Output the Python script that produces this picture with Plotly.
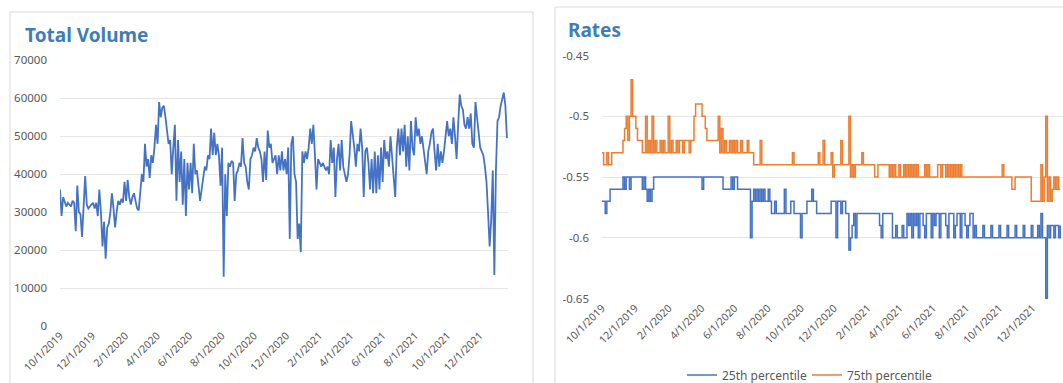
import pandas as pd
import plotly.graph_objects as go

# ---------------- data ----------------
start_date = "2019-10-01"
end_date = "2022-01-21"

tick_labels = ["10/1/2019", "12/1/2019", "2/1/2020", "4/1/2020", "6/1/2020", "8/1/2020",
               "10/1/2020", "12/1/2020", "2/1/2021", "4/1/2021", "6/1/2021", "8/1/2021",
               "10/1/2021", "12/1/2021"]

total_volume = [
    36000, 29000, 34000, 33000, 31500, 32500, 32000, 31500, 33000, 32500, 25000, 37000, 30000, 29500, 23500, 33000, 39500,
    32000, 31000, 31500, 32000, 32500, 31000, 32500, 29000, 36000, 30000, 21000, 27500, 17800, 26000, 27000,
    30000, 35000, 31000, 26000, 30000, 33000, 32000, 33500, 32500, 38000, 33000, 38500, 34000, 32000, 34000, 35000, 33000, 31000, 30500,
    36000, 40000, 38000, 48000, 42000, 44000, 39000, 45000, 43000, 47000, 53000, 48000, 59000, 55000, 57500,
    58000, 55000, 51000, 48000, 49000, 40000, 47000, 53000, 33000, 49000, 38000, 46000, 32000, 44000, 29000,
    43000, 36000, 43000, 35000, 48000, 40000, 41000, 37000, 33000, 36000, 39000, 42000, 41000, 45000, 44000, 52000, 45000,
    51000, 45000, 48000, 45000, 37000, 47000, 13000, 40000, 29000, 43000, 42000, 43500, 43000,
    33000, 40000, 41000, 43000, 42000, 49500, 43000, 42000, 38000, 36000, 44000, 45000, 47000,
    46000, 49500, 47000, 46000, 44000, 38000, 46000, 38500, 51500, 47000, 48000, 43000, 44000, 45000, 40000, 45000, 41000, 46000, 41000, 44000, 40000,
    47000, 23000, 48000, 50000, 40000, 38000, 23000, 27000, 19500, 46000, 43000, 46000, 44000,
    47000, 52000, 48000, 53000, 45000, 36000, 44000, 43000, 42000, 43000, 42000, 41000, 42000, 40000, 49000, 43000, 47000, 34000,
    44000, 48000, 41000, 49000, 42000, 40000, 38000, 40000, 45000, 54000, 51000, 47000, 42000, 48000, 46000, 52000, 47000, 34000, 46000, 47000, 43000, 36000,
    44000, 35000, 46000, 35000, 45000, 36000, 47000, 38000, 49000, 44000, 46000, 42000, 50000, 45000, 41000, 34000, 47000, 52000, 45000,
    52000, 46000, 53000, 42000, 50000, 41000, 54000, 47000, 45000, 55000, 50000, 52000, 48000, 50000, 47000, 43000, 40000, 46000, 48000, 51000, 52000,
    46000, 41000, 48000, 42000, 46000, 43000, 46000, 50000, 54000, 50000, 52000, 48000, 55000, 50000, 44000, 53000, 61000,
    58000, 57000, 53000, 52000, 55000, 52000, 56000, 48000, 47000, 59000, 55000, 50000, 47000, 46000, 45000,
    42000, 38000, 30000, 21000, 28000, 41000, 13500, 41000, 54000, 55000, 58000, 60000, 61500, 58000, 49500,
]

pct75 = [
    -0.53, -0.54, -0.54, -0.53, -0.54, -0.54, -0.53,
    -0.53, -0.53, -0.53, -0.53, -0.53, -0.53,
    -0.52, -0.51, -0.50, -0.52, -0.50, -0.47,
    -0.50, -0.50, -0.51, -0.52, -0.52,
    -0.52, -0.53, -0.53, -0.50, -0.53, -0.52, -0.53, -0.50, -0.53, -0.52,
    -0.53, -0.53, -0.52, -0.53, -0.52, -0.53, -0.53, -0.50, -0.53, -0.52,
    -0.53, -0.53, -0.52, -0.53, -0.52, -0.52, -0.53, -0.52, -0.52,
    -0.52, -0.53, -0.52, -0.52,
    -0.50, -0.49, -0.49, -0.49, -0.49, -0.50, -0.50,
    -0.51, -0.52, -0.52, -0.52, -0.52, -0.52, -0.52, -0.52, -0.50,
    -0.53, -0.51, -0.53, -0.52, -0.53, -0.53, -0.52, -0.53, -0.52, -0.53,
    -0.52, -0.53, -0.53, -0.52, -0.53, -0.53, -0.53, -0.52, -0.53, -0.53, -0.53,
    -0.54, -0.54, -0.54, -0.54, -0.52, -0.54, -0.54, -0.54, -0.54, -0.54,
    -0.54, -0.54, -0.54, -0.54, -0.54, -0.54, -0.54, -0.54, -0.54, -0.54,
    -0.54, -0.54, -0.54, -0.54, -0.53, -0.54, -0.54, -0.54, -0.54, -0.54,
    -0.54, -0.54, -0.54, -0.54, -0.54, -0.54, -0.54, -0.54, -0.54, -0.54,
    -0.53, -0.54, -0.54, -0.52, -0.54, -0.54, -0.54, -0.54, -0.53, -0.55,
    -0.54, -0.54, -0.54, -0.54, -0.52, -0.54, -0.54, -0.54, -0.54,
    -0.50,
    -0.55, -0.54, -0.55, -0.54, -0.54, -0.54, -0.54, -0.53, -0.54, -0.54,
    -0.54, -0.54, -0.54, -0.54, -0.54, -0.55, -0.55, -0.54, -0.54, -0.54,
    -0.54, -0.54, -0.54, -0.54, -0.55, -0.54, -0.55, -0.54, -0.55, -0.55,
    -0.54, -0.55, -0.55, -0.54, -0.55,
    -0.54, -0.55, -0.54, -0.55, -0.54, -0.55, -0.54, -0.55, -0.55, -0.55,
    -0.55, -0.54, -0.55, -0.54, -0.55, -0.55, -0.55, -0.55, -0.55, -0.54,
    -0.54, -0.55, -0.54, -0.54, -0.55, -0.54, -0.55, -0.54, -0.55, -0.54,
    -0.55, -0.54, -0.55, -0.54, -0.55,
    -0.55, -0.55, -0.55, -0.55, -0.55, -0.55, -0.55, -0.55, -0.55, -0.55,
    -0.55, -0.55, -0.55, -0.55, -0.55, -0.55, -0.55, -0.55, -0.55, -0.55,
    -0.55, -0.55, -0.55, -0.55,
    -0.54,
    -0.55, -0.55, -0.55, -0.55, -0.55,
    -0.56, -0.56,
    -0.55, -0.55, -0.55, -0.55, -0.55, -0.55, -0.55, -0.55, -0.55, -0.55,
    -0.57, -0.57, -0.57, -0.57, -0.57, -0.57,
    -0.54, -0.57, -0.55, -0.50, -0.57, -0.55, -0.57, -0.56, -0.55, -0.56, -0.55, -0.56, -0.56,
]

pct25 = [
    -0.57, -0.57, -0.58, -0.57, -0.57,
    -0.56, -0.56, -0.56, -0.56, -0.56, -0.56, -0.56, -0.56,
    -0.55, -0.56, -0.55, -0.55, -0.56, -0.55,
    -0.55, -0.55, -0.55, -0.55, -0.55,
    -0.55, -0.56, -0.55, -0.56, -0.57, -0.56, -0.57, -0.56, -0.55,
    -0.55, -0.55, -0.55, -0.55, -0.55, -0.55, -0.55, -0.55, -0.55, -0.55,
    -0.55, -0.55, -0.55, -0.55, -0.55, -0.55, -0.55, -0.55, -0.55, -0.55,
    -0.55, -0.55, -0.55, -0.55, -0.55, -0.55, -0.55, -0.55, -0.55,
    -0.56,
    -0.55, -0.55, -0.55, -0.55, -0.55, -0.55, -0.55, -0.55, -0.55, -0.55, -0.55, -0.55,
    -0.56, -0.56, -0.56, -0.56, -0.56,
    -0.55, -0.56, -0.55, -0.55,
    -0.56, -0.56, -0.56, -0.56, -0.56, -0.56, -0.56, -0.56,
    -0.60,
    -0.57, -0.56, -0.57, -0.56, -0.57, -0.56, -0.57, -0.56, -0.57, -0.57, -0.56, -0.57,
    -0.58, -0.58, -0.57, -0.58, -0.58, -0.58, -0.58, -0.58, -0.56, -0.58,
    -0.58, -0.58, -0.57, -0.57, -0.58, -0.58, -0.58, -0.58,
    -0.60,
    -0.58, -0.58, -0.58, -0.57, -0.57,
    -0.57, -0.56, -0.57, -0.57, -0.58,
    -0.58, -0.58, -0.58, -0.58, -0.58, -0.58, -0.58, -0.58,
    -0.57, -0.57, -0.57, -0.60, -0.57,
    -0.57, -0.58, -0.57, -0.57, -0.58, -0.58,
    -0.61, -0.60, -0.59, -0.58, -0.60,
    -0.58, -0.58, -0.58, -0.58, -0.58, -0.58, -0.58, -0.58, -0.58, -0.58, -0.58, -0.58, -0.58, -0.58,
    -0.59, -0.60,
    -0.58, -0.58, -0.58, -0.58, -0.58, -0.58,
    -0.60, -0.60, -0.59, -0.60, -0.60, -0.60, -0.59, -0.60, -0.60, -0.58, -0.59,
    -0.58, -0.60, -0.58, -0.59, -0.58, -0.60, -0.58, -0.58, -0.59, -0.60,
    -0.58, -0.58, -0.58, -0.60, -0.58, -0.59, -0.58, -0.58, -0.60, -0.58,
    -0.58, -0.58, -0.59, -0.60, -0.58, -0.58, -0.58, -0.60, -0.59, -0.58,
    -0.58, -0.60, -0.58, -0.58, -0.59, -0.60, -0.59, -0.58, -0.58, -0.60,
    -0.59, -0.60, -0.60,
    -0.60, -0.60, -0.59, -0.60, -0.60, -0.60, -0.60, -0.59, -0.60, -0.60,
    -0.60, -0.60, -0.59, -0.60, -0.60, -0.60, -0.60, -0.59, -0.60, -0.60,
    -0.60, -0.60, -0.59, -0.60, -0.60, -0.60, -0.60, -0.59, -0.60, -0.60,
    -0.60, -0.60, -0.59, -0.60, -0.60, -0.60, -0.59, -0.60,
    -0.58, -0.60, -0.60, -0.65, -0.59, -0.60, -0.59, -0.59, -0.60, -0.59, -0.59, -0.60, -0.59,
]

vol_ticks = [0, 10000, 20000, 30000, 40000, 50000, 60000, 70000]
rate_ticks = [-0.65, -0.6, -0.55, -0.5, -0.45]
rate_tick_text = ["-0.65", "-0.6", "-0.55", "-0.5", "-0.45"]

# ---------------- figure ----------------
W, H = 1063, 383
FONT = "Noto Sans"
GRAY = "#595959"
GRID = "#e6e6e6"
BLUE = "#4472C4"
ORANGE = "#ED7D31"
TITLE = "#3F7DB6"


def px_x(p):
    return p / W


def px_y(p):
    return 1 - p / H


vol_dates = pd.date_range(start_date, end_date, periods=len(total_volume))
p25_dates = pd.date_range(start_date, end_date, periods=len(pct25))
p75_dates = pd.date_range(start_date, end_date, periods=len(pct75))
tick_dates = pd.to_datetime(tick_labels, format="%m/%d/%Y")

fig = go.Figure()
fig.add_trace(go.Scatter(x=vol_dates, y=total_volume, mode="lines",
                         line=dict(color=BLUE, width=1.8), showlegend=False,
                         xaxis="x", yaxis="y", name="Total Volume"))
fig.add_trace(go.Scatter(x=p25_dates, y=pct25, mode="lines", name="25th percentile",
                         line=dict(color=BLUE, width=1.5, shape="hv"),
                         xaxis="x2", yaxis="y2"))
fig.add_trace(go.Scatter(x=p75_dates, y=pct75, mode="lines", name="75th percentile",
                         line=dict(color=ORANGE, width=1.5, shape="hv"),
                         xaxis="x2", yaxis="y2"))

xcommon = dict(type="date", tickvals=tick_dates, ticktext=tick_labels, tickangle=-45,
               showgrid=False, showline=False, zeroline=False, ticks="", automargin=False,
               tickfont=dict(family=FONT, size=10.5, color=GRAY))

fig.update_layout(
    width=W, height=H, autosize=False,
    margin=dict(l=0, r=0, t=0, b=0, pad=0, autoexpand=False),
    paper_bgcolor="white", plot_bgcolor="white",
    font=dict(family=FONT, color=GRAY),
    xaxis=dict(domain=[px_x(60), px_x(508)], anchor="y",
               range=["2019-10-01", "2022-01-23"], **xcommon),
    yaxis=dict(domain=[px_y(326.5), px_y(60)], anchor="x", range=[-60, 70060],
               tickvals=vol_ticks, tickformat="d", showgrid=True, gridcolor=GRID,
               gridwidth=1, zeroline=False, showline=False, ticks="", automargin=False,
               ticklabelstandoff=12,
               tickfont=dict(family=FONT, size=11.5, color=GRAY)),
    xaxis2=dict(domain=[px_x(602), 1.0], anchor="y2",
                range=["2019-10-01", "2022-01-26"], **xcommon),
    yaxis2=dict(domain=[px_y(299), px_y(55)], anchor="x2", range=[-0.6504, -0.4496],
                tickvals=rate_ticks, ticktext=rate_tick_text, showgrid=True,
                gridcolor=GRID, gridwidth=1, zeroline=False, showline=False, ticks="",
                automargin=False, ticklabelstandoff=12,
                tickfont=dict(family=FONT, size=11.5, color=GRAY)),
    legend=dict(orientation="h", x=px_x(807), xanchor="center", xref="container",
                y=px_y(375), yanchor="middle", yref="container",
                font=dict(family=FONT, size=12, color=GRAY),
                itemwidth=30, entrywidth=80, entrywidthmode="pixels",
                bgcolor="rgba(0,0,0,0)"),
    shapes=[
        dict(type="rect", xref="paper", yref="paper", x0=px_x(10), x1=px_x(533),
             y0=-0.02, y1=px_y(12), line=dict(color="#d9d9d9", width=1), layer="below"),
        dict(type="rect", xref="paper", yref="paper", x0=px_x(555), x1=1.02,
             y0=-0.02, y1=px_y(7), line=dict(color="#d9d9d9", width=1), layer="below"),
    ],
    annotations=[
        dict(text="Total Volume", x=px_x(23), y=px_y(35.5), xref="paper", yref="paper",
             xanchor="left", yanchor="middle", showarrow=False,
             font=dict(family=FONT, size=19, color=TITLE, weight="bold")),
        dict(text="Rates", x=px_x(566), y=px_y(30), xref="paper", yref="paper",
             xanchor="left", yanchor="middle", showarrow=False,
             font=dict(family=FONT, size=19, color=TITLE, weight="bold")),
    ],
)

fig.write_html("out.html", config={"displayModeBar": False},
               post_script="document.body.style.margin='0px';")
